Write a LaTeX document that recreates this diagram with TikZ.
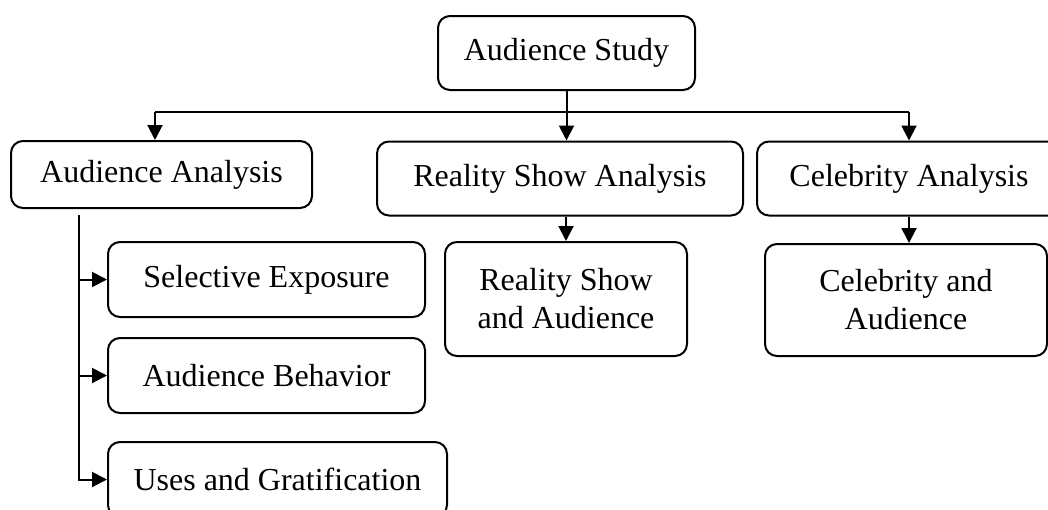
\documentclass[tikz,border=0pt]{standalone}
\usepackage{fontspec}
\setmainfont{Liberation Serif}
\usepackage{tikz}
\usetikzlibrary{calc,arrows.meta}

\begin{document}
\begin{tikzpicture}[x=1pt,y=-1pt,line width=2pt,
    box/.style={draw,rounded corners=12pt,align=center,inner sep=0pt,
      font=\fontsize{32}{38}\selectfont},
    arr/.style={-{Triangle[length=15pt,width=15pt]}}]
                      \useasboundingbox (0,0) rectangle (1048,509);
                      % top level
                      \node[box,minimum width=257,minimum height=74] (study) at (566.5,53) {Audience Study};
                      \node[box,minimum width=301,minimum height=67] (aa) at (161.5,174.5) {Audience Analysis};
                      \node[box,minimum width=366,minimum height=74] (rsa) at (560,178.5) {Reality Show Analysis};
                      \node[box,minimum width=304,minimum height=74] (ca) at (909,178.5) {Celebrity Analysis};
                      % second level
                      \node[box,minimum width=242,minimum height=114] (rsaud) at (566,299) {Reality Show\\and Audience};
                      \node[box,minimum width=282,minimum height=112] (caud) at (906,300) {Celebrity and\\Audience};
                      \node[box,minimum width=317,minimum height=75] (se) at (266.5,279.5) {Selective Exposure};
                      \node[box,minimum width=317,minimum height=75] (ab) at (266.5,375.5) {Audience Behavior};
                      \node[box,minimum width=339,minimum height=75] (ug) at (277.5,479.5) {Uses and Gratification};
                      % connectors
                      \coordinate (busL) at (155,112);
                      \coordinate (busR) at (909,112);
                      \coordinate (trunk) at (79,215);
                      \draw (busL) -- (busR);
                      \draw[arr] (study.south) -- (study.south |- rsa.north);
                      \draw[arr] (busL) -- (busL |- aa.north);
                      \draw[arr] (busR) -- (ca.north);
                      \draw[arr] (rsaud.north |- rsa.south) -- (rsaud.north);
                      \draw[arr] (ca.south) -- (ca.south |- caud.north);
                      \draw[arr] (trunk) |- (ug.west);
                      \foreach \n in {se,ab}
                      \draw[arr] (trunk |- \n.west) -- (\n.west);
                  \end{tikzpicture}
\end{document}
